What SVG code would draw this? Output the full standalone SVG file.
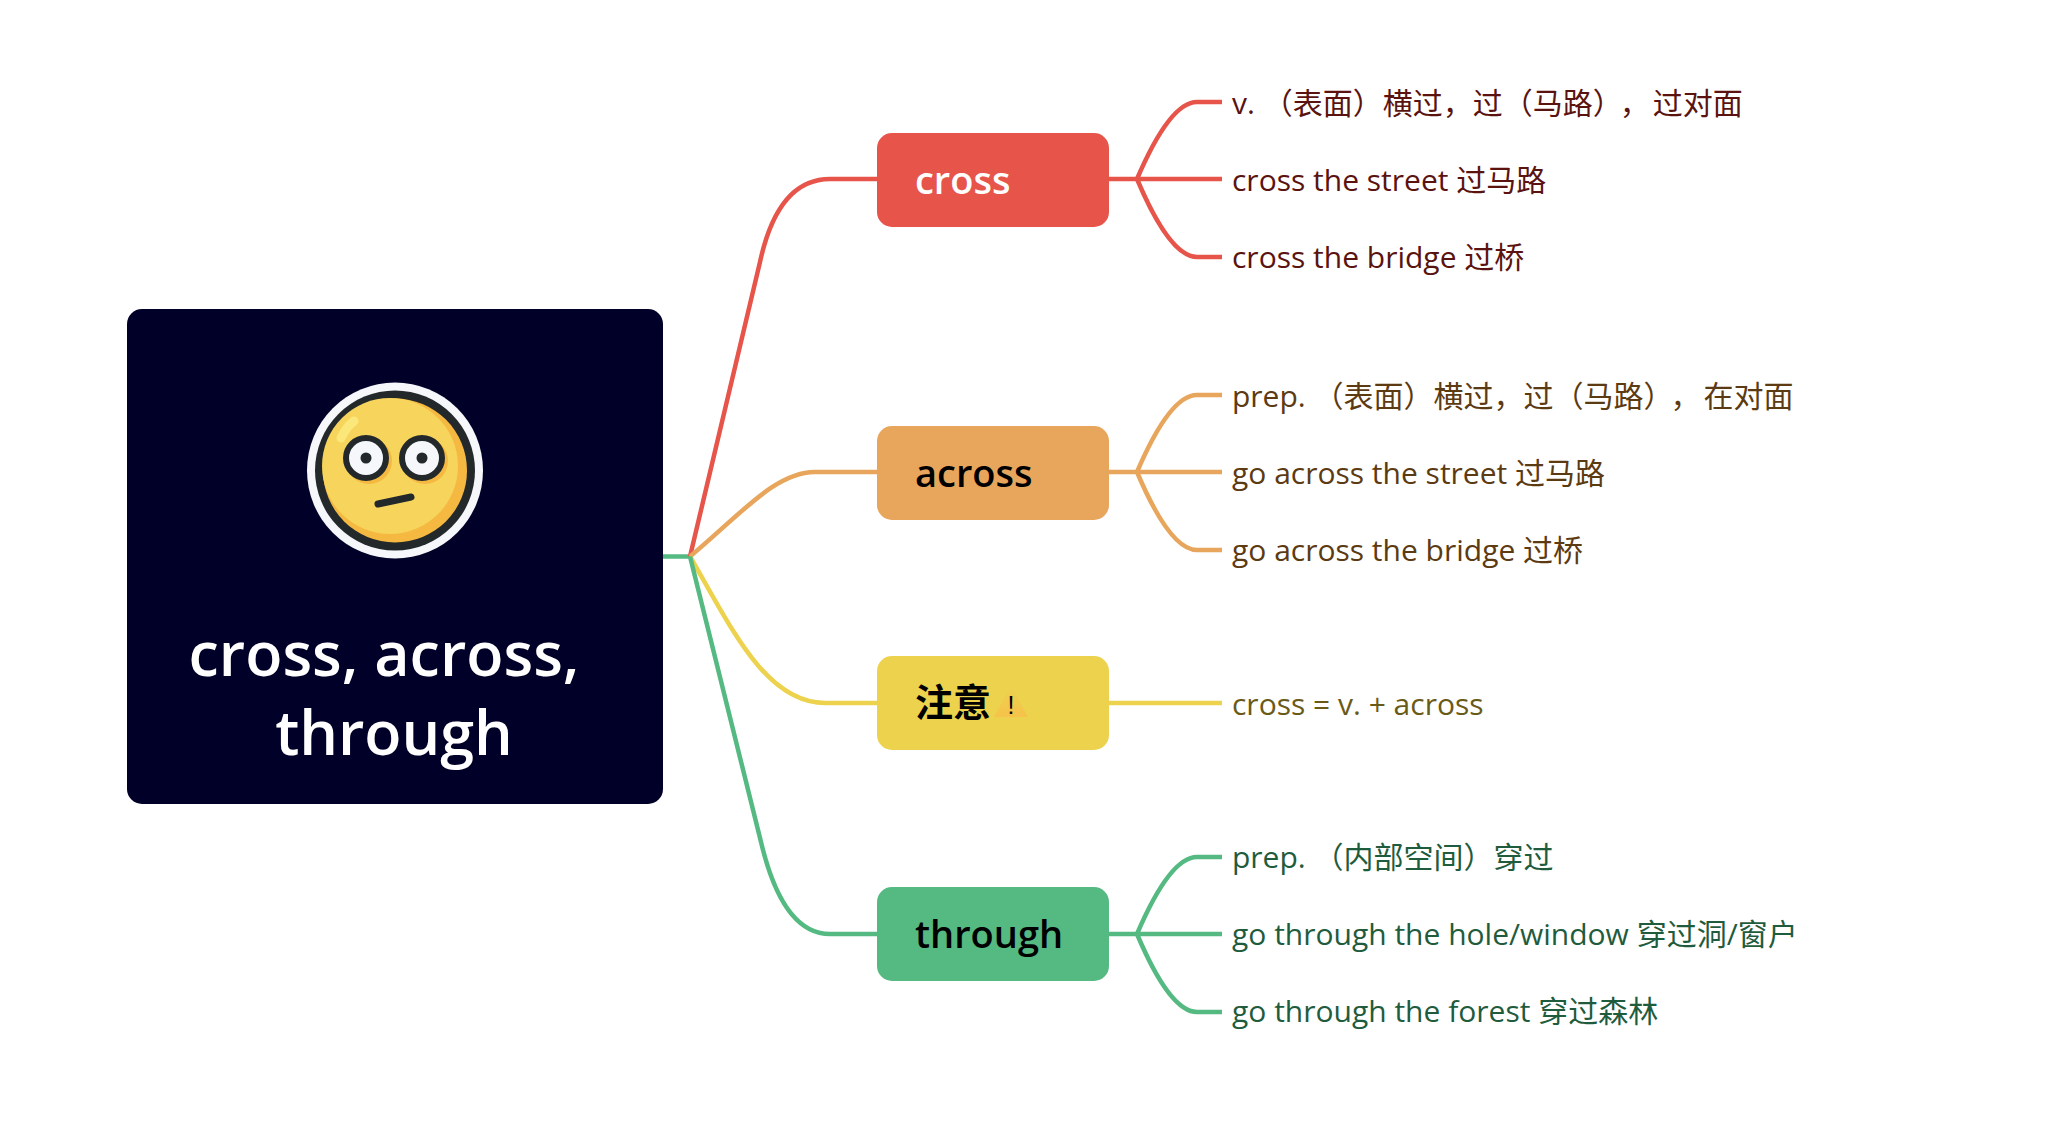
<svg xmlns="http://www.w3.org/2000/svg" width="2048" height="1131" viewBox="0 0 2048 1131">
<defs>
<linearGradient id="warn" x1="0" y1="0" x2="0" y2="1"><stop offset="0" stop-color="#edd24e"/><stop offset="1" stop-color="#f6c24a"/></linearGradient>
</defs>
<style>
text{font-family:"Open Sans","Noto Sans CJK SC",sans-serif}
.c{fill:none;stroke-width:4.500;stroke-linecap:butt}
.r{stroke:#e6544a}.o{stroke:#e8a55c}.y{stroke:#edd24e}.g{stroke:#55b982}
.n{font-size:38px;font-weight:600;fill:#000}
.l{font-size:30px}
.tr{fill:#5a130f}.to{fill:#5c3a12}.ty{fill:#6a5a18}.tg{fill:#1f5c3d}
.root{font-size:61px;font-weight:600;fill:#fff;text-anchor:middle}
</style>
<rect width="2048" height="1131" fill="#fff"/>
<g id="connectors">
<path class="c g" d="M662 556.500H690"/>
<path class="c r" d="M690 556.500L760 262Q778 179 830 179H877"/>
<path class="c o" d="M690 556.500C740 515 775 472 815 472H877"/>
<path class="c y" d="M690 556.500C730 625 765 703 825 703H877"/>
<path class="c g" d="M690 556.500L763 850Q785 934 830 934H877"/>
<path class="c r" d="M1108 179H1222M1137 179Q1170 102 1197 102H1222M1137 179Q1170 257 1197 257H1222"/>
<path class="c o" d="M1108 472H1222M1137 472Q1170 395 1197 395H1222M1137 472Q1170 550 1197 550H1222"/>
<path class="c y" d="M1108 703H1222"/>
<path class="c g" d="M1108 934H1222M1137 934Q1170 857 1197 857H1222M1137 934Q1170 1012 1197 1012H1222"/>
</g>
<g id="root">
<rect x="127" y="309" width="536" height="495" rx="15" fill="#000028"/>
<circle cx="395" cy="470.500" r="88" fill="#f5f7fa"/>
<circle cx="395" cy="470.500" r="80" fill="#23282b"/>
<circle cx="395" cy="470.500" r="72" fill="#f5b942"/>
<ellipse cx="390" cy="466" rx="68" ry="68" fill="#f7d45c"/>
<path d="M341 438Q347 426 354 421" stroke="#fbe77a" stroke-width="9" stroke-linecap="round" fill="none"/>
<circle cx="369" cy="461" r="23" fill="#f5b942"/>
<circle cx="425" cy="461" r="23" fill="#f5b942"/>
<circle cx="366" cy="458" r="20" fill="#f5f7fa" stroke="#23282b" stroke-width="6"/>
<circle cx="422" cy="458" r="20" fill="#f5f7fa" stroke="#23282b" stroke-width="6"/>
<circle cx="366" cy="458" r="5.500" fill="#23282b"/>
<circle cx="422" cy="458" r="5.500" fill="#23282b"/>
<path d="M378 504L411 497" stroke="#23282b" stroke-width="7" stroke-linecap="round"/>
<text class="root" x="384" y="676">cross, across,</text>
<text class="root" x="394" y="755">through</text>
</g>
<g id="n-cross">
<rect x="877" y="133" width="232" height="94" rx="15" fill="#e6544a"/>
<text class="n" x="915" y="194" style="fill:#fff">cross</text>
</g>
<g id="n-across">
<rect x="877" y="426" width="232" height="94" rx="15" fill="#e8a55c"/>
<text class="n" x="915" y="487">across</text>
</g>
<g id="n-attention">
<rect x="877" y="656" width="232" height="94" rx="15" fill="#edd24e"/>
<text class="n" x="915" y="716">注意</text>
<polygon points="994,717 1011,686 1028,717" fill="url(#warn)"/>
<text x="1011" y="714" font-size="25" text-anchor="middle" fill="#000" style="font-family:'Liberation Sans',sans-serif">!</text>
</g>
<g id="n-through">
<rect x="877" y="887" width="232" height="94" rx="15" fill="#55b982"/>
<text class="n" x="915" y="948">through</text>
</g>
<g id="leaves-cross">
<text class="l tr" x="1232" y="114">v. （表面）横过，过（马路）<tspan dx="12">，</tspan><tspan dx="3">过对面</tspan></text>
<text class="l tr" x="1232" y="191">cross the street 过马路</text>
<text class="l tr" x="1232" y="268">cross the bridge 过桥</text>
</g>
<g id="leaves-across">
<text class="l to" x="1232" y="407">prep. （表面）横过，过（马路）<tspan dx="12">，</tspan><tspan dx="3">在对面</tspan></text>
<text class="l to" x="1232" y="484">go across the street 过马路</text>
<text class="l to" x="1232" y="561">go across the bridge 过桥</text>
</g>
<g id="leaves-attention">
<text class="l ty" x="1232" y="715">cross = v. + across</text>
</g>
<g id="leaves-through">
<text class="l tg" x="1232" y="868">prep. （内部空间）穿过</text>
<text class="l tg" x="1232" y="945">go through the hole/window 穿过洞/窗户</text>
<text class="l tg" x="1232" y="1022">go through the forest 穿过森林</text>
</g>
</svg>
